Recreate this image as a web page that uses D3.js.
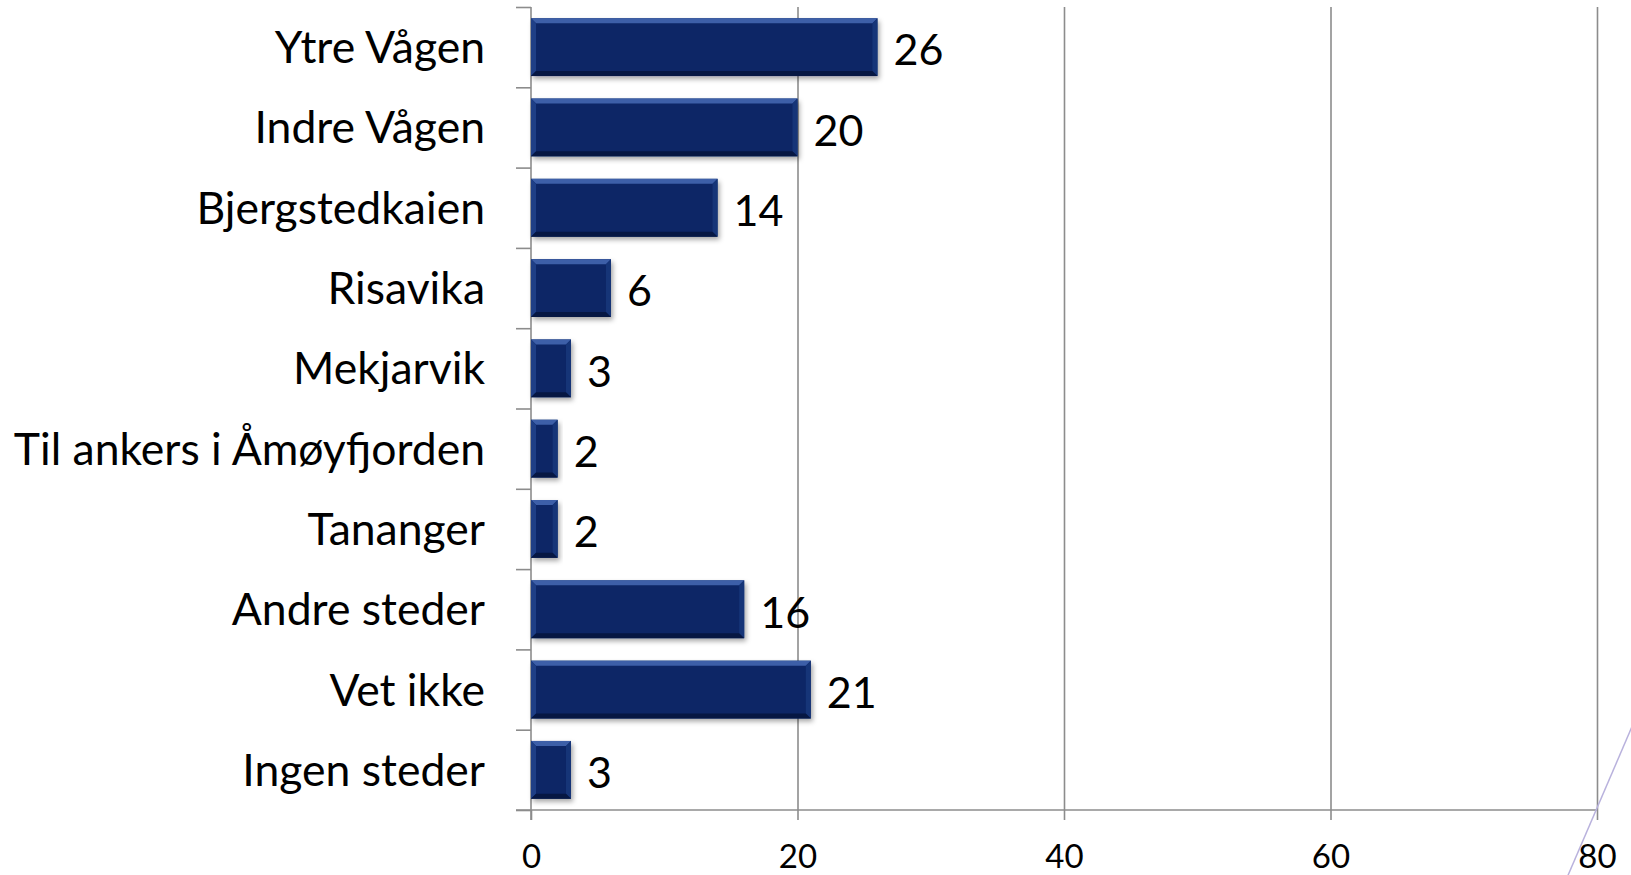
<!DOCTYPE html>
<html>
<head>
<meta charset="utf-8">
<script src="https://cdn.jsdelivr.net/npm/d3@7"></script>
<style>
  html, body { margin: 0; padding: 0; background: #fff; }
  svg { display: block; }
  text { font-family: Lato, "Open Sans", sans-serif; fill: #000; }
</style>
</head>
<body>
<div id="graph"></div>
<script>
var categories = ["Ytre Vågen", "Indre Vågen", "Bjergstedkaien", "Risavika", "Mekjarvik",
  "Til ankers i Åmøyfjorden", "Tananger", "Andre steder", "Vet ikke", "Ingen steder"];
var values = [26, 20, 14, 6, 3, 2, 2, 16, 21, 3];
var xTicks = [0, 20, 40, 60, 80];

var width = 1631;
var height = 875;
var margin = { top: 7, left: 531, right: 34, bottom: 65 };

var svg = d3.select("#graph").append("svg")
  .attr("width", width)
  .attr("height", height);

var defs = svg.append("defs");
var shadow = defs.append("filter").attr("id", "shadow")
  .attr("x", "-10%").attr("y", "-20%").attr("width", "130%").attr("height", "160%");
shadow.append("feDropShadow")
  .attr("dx", 2).attr("dy", 3).attr("stdDeviation", 2.5)
  .attr("flood-color", "#000").attr("flood-opacity", 0.35);

var xScale = d3.scaleLinear().domain([0, 80]).range([margin.left, width - margin.right]);
var yScale = d3.scaleBand().domain(categories)
  .range([margin.top, height - margin.bottom])
  .paddingInner(0.28).paddingOuter(0.14);
// boundaries between categories for the little left-side ticks
var yEdge = d3.scaleLinear().domain([0, categories.length])
  .range([margin.top, height - margin.bottom]);

var plotBottom = height - margin.bottom;

// vertical grid lines
svg.append("g")
  .attr("class", "grid")
  .attr("transform", "translate(0," + plotBottom + ")")
  .call(d3.axisBottom(xScale).tickValues(xTicks.slice(1)).tickSize(-(plotBottom - margin.top)).tickFormat(""))
  .call(function (g) { g.select(".domain").remove(); })
  .selectAll("line").attr("stroke", "#8c8c8c").attr("stroke-width", 1.6);

// x axis
svg.append("g")
  .attr("class", "x axis")
  .attr("transform", "translate(0," + plotBottom + ")")
  .call(d3.axisBottom(xScale).tickValues(xTicks).tickSize(10).tickPadding(25))
  .call(function (g) {
    g.select(".domain").remove();
    g.selectAll("line").attr("stroke", "#8c8c8c").attr("stroke-width", 1.6);
    g.selectAll("text").attr("font-size", 33).attr("font-family", "Lato, sans-serif").attr("fill", "#000");
  });
svg.append("line")
  .attr("x1", margin.left - 15).attr("x2", width - margin.right)
  .attr("y1", plotBottom).attr("y2", plotBottom)
  .attr("stroke", "#8c8c8c").attr("stroke-width", 1.6);

// y axis with ticks between categories
svg.append("g")
  .attr("class", "y axis")
  .attr("transform", "translate(" + margin.left + ",0)")
  .call(d3.axisLeft(yEdge).ticks(categories.length).tickSize(15).tickFormat(""))
  .call(function (g) {
    g.select(".domain").attr("d", "M0," + margin.top + "V" + (plotBottom + 10));
    g.selectAll("path, line").attr("stroke", "#8c8c8c").attr("stroke-width", 1.6);
  });

// category labels
svg.append("g")
  .attr("transform", "translate(" + margin.left + ",0)")
  .call(d3.axisLeft(yScale).tickSize(0).tickPadding(46))
  .call(function (g) {
    g.select(".domain").remove();
    g.selectAll("text").attr("font-size", 44.5).attr("font-family", "Lato, sans-serif")
      .attr("fill", "#000").attr("dy", "0.36em");
  });

// bars with bevel
var bars = svg.append("g").selectAll("g.bar")
  .data(categories.map(function (c, i) { return { name: c, value: values[i] }; }))
  .enter().append("g").attr("class", "bar");

bars.append("rect")
  .attr("x", xScale(0))
  .attr("y", function (d) { return yScale(d.name); })
  .attr("width", function (d) { return xScale(d.value) - xScale(0); })
  .attr("height", yScale.bandwidth())
  .attr("fill", "#0a2566")
  .attr("filter", "url(#shadow)");

var bev = 5;
function facet(d, side) {
  var x0 = xScale(0), x1 = xScale(d.value);
  var y0 = yScale(d.name), y1 = y0 + yScale.bandwidth();
  var b = Math.min(bev, (x1 - x0) / 2);
  if (side === "top") return [[x0, y0], [x1, y0], [x1 - b, y0 + b], [x0 + b, y0 + b]];
  if (side === "bottom") return [[x0, y1], [x1, y1], [x1 - b, y1 - b], [x0 + b, y1 - b]];
  if (side === "left") return [[x0, y0], [x0 + b, y0 + b], [x0 + b, y1 - b], [x0, y1]];
  return [[x1, y0], [x1 - b, y0 + b], [x1 - b, y1 - b], [x1, y1]];
}
var facetColors = { top: "#3d5fa8", left: "#1f3f86", right: "#163578", bottom: "#061743" };
["top", "left", "right", "bottom"].forEach(function (side) {
  bars.append("polygon")
    .attr("points", function (d) { return facet(d, side).map(function (p) { return p.join(","); }).join(" "); })
    .attr("fill", facetColors[side]);
});

// value labels
bars.append("text")
  .attr("x", function (d) { return xScale(d.value) + 16; })
  .attr("y", function (d) { return yScale(d.name) + yScale.bandwidth() / 2 + 2; })
  .attr("dy", "0.38em")
  .attr("font-size", 43)
  .text(function (d) { return d.value; });

// stray decorative diagonal line at bottom right
svg.append("line")
  .attr("x1", 1634).attr("y1", 722).attr("x2", 1566).attr("y2", 880)
  .attr("stroke", "#b9b2dd").attr("stroke-width", 1.5);
</script>
</body>
</html>
